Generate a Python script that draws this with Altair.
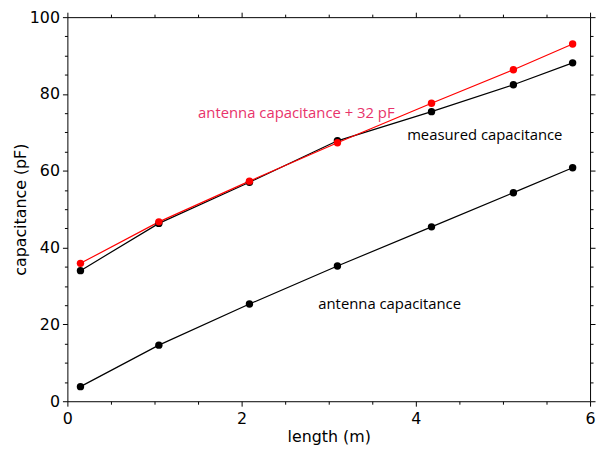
import altair as alt
import pandas as pd

# ---- data ----
length_m = [0.15, 1.05, 2.09, 3.10, 4.18, 5.12, 5.80]
measured = [34.0, 46.3, 57.0, 67.8, 75.4, 82.4, 88.1]
antenna = [3.8, 14.6, 25.3, 35.2, 45.4, 54.3, 60.8]
antenna_plus_32 = [35.9, 46.7, 57.3, 67.3, 77.6, 86.3, 93.0]

series_names = ["measured capacitance", "antenna capacitance", "antenna capacitance + 32 pF"]
series_values = [measured, antenna, antenna_plus_32]
series_colors = ["#000000", "#000000", "#ff0000"]

label_x = [3.90, 2.88, 1.50]
label_y = [69.4, 25.3, 75.0]
label_colors = ["#000000", "#000000", "#e8336b"]

x_major = [0, 2, 4, 6]
x_minor = [0.5, 1, 1.5, 2.5, 3, 3.5, 4.5, 5, 5.5]
y_major = [0, 20, 40, 60, 80, 100]
y_minor = [5, 10, 15, 25, 30, 35, 45, 50, 55, 65, 70, 75, 85, 90, 95]

rows = []
for name, vals, col in zip(series_names, series_values, series_colors):
    for i, (x, v) in enumerate(zip(length_m, vals)):
        rows.append({"length": x, "value": v, "series": name, "color": col, "idx": i})
df = pd.DataFrame(rows)

labels = pd.DataFrame({"length": label_x, "value": label_y,
                       "text": series_names, "color": label_colors})

xs = alt.Scale(domain=[0, 6], nice=False, zero=False)
ys = alt.Scale(domain=[0, 100], nice=False, zero=False)

AX_FONT = "DejaVu Sans"
common = dict(domain=False, grid=False, tickColor="black", tickWidth=1,
              labelColor="black", titleColor="black", labelFont=AX_FONT,
              titleFont=AX_FONT, titleFontWeight="normal", labelFontSize=16,
              titleFontSize=16, labelFlush=False, labelOverlap=False)


def axis_layer(xaxis, yaxis):
    return alt.Chart(df).mark_point(opacity=0).encode(
        x=alt.X("length:Q", scale=xs, axis=xaxis),
        y=alt.Y("value:Q", scale=ys, axis=yaxis),
    )


ax_main = axis_layer(
    alt.Axis(orient="bottom", values=x_major, tickSize=5, labelPadding=4,
             title="length  (m)", titlePadding=3, format="d", **common),
    alt.Axis(orient="left", values=y_major, tickSize=5, labelPadding=3,
             title="capacitance  (pF)", titlePadding=1, format="d", **common),
)
ax_minor = axis_layer(
    alt.Axis(orient="bottom", values=x_minor, tickSize=3, labels=False, title=None, **common),
    alt.Axis(orient="left", values=y_minor, tickSize=3, labels=False, title=None, **common),
)
ax_top = axis_layer(
    alt.Axis(orient="top", values=x_major, tickSize=5, labels=False, title=None, **common),
    alt.Axis(orient="right", values=y_major, tickSize=5, labels=False, title=None, **common),
)
ax_top_minor = axis_layer(
    alt.Axis(orient="top", values=x_minor, tickSize=3, labels=False, title=None, **common),
    alt.Axis(orient="right", values=y_minor, tickSize=3, labels=False, title=None, **common),
)

base = alt.Chart(df).encode(
    x=alt.X("length:Q", scale=xs, axis=None),
    y=alt.Y("value:Q", scale=ys, axis=None),
    color=alt.Color("color:N", scale=None),
    detail="series:N",
)
lines = base.mark_line(strokeWidth=1.2)
points = base.mark_circle(size=56, opacity=1)

texts = alt.Chart(labels).mark_text(align="left", baseline="middle",
                                    font="Open Sans", fontSize=15).encode(
    x=alt.X("length:Q", scale=xs, axis=None),
    y=alt.Y("value:Q", scale=ys, axis=None),
    text="text:N",
    color=alt.Color("color:N", scale=None),
)

chart = alt.layer(ax_main, ax_minor, ax_top, ax_top_minor, lines, points, texts).resolve_axis(
    x="independent", y="independent"
).properties(
    width=528, height=388, autosize="none",
    padding={"left": 60, "top": 7, "right": 6, "bottom": 44},
).configure_view(stroke="black", strokeWidth=1)

chart.save("out.html", embed_options={"renderer": "svg", "actions": False})
